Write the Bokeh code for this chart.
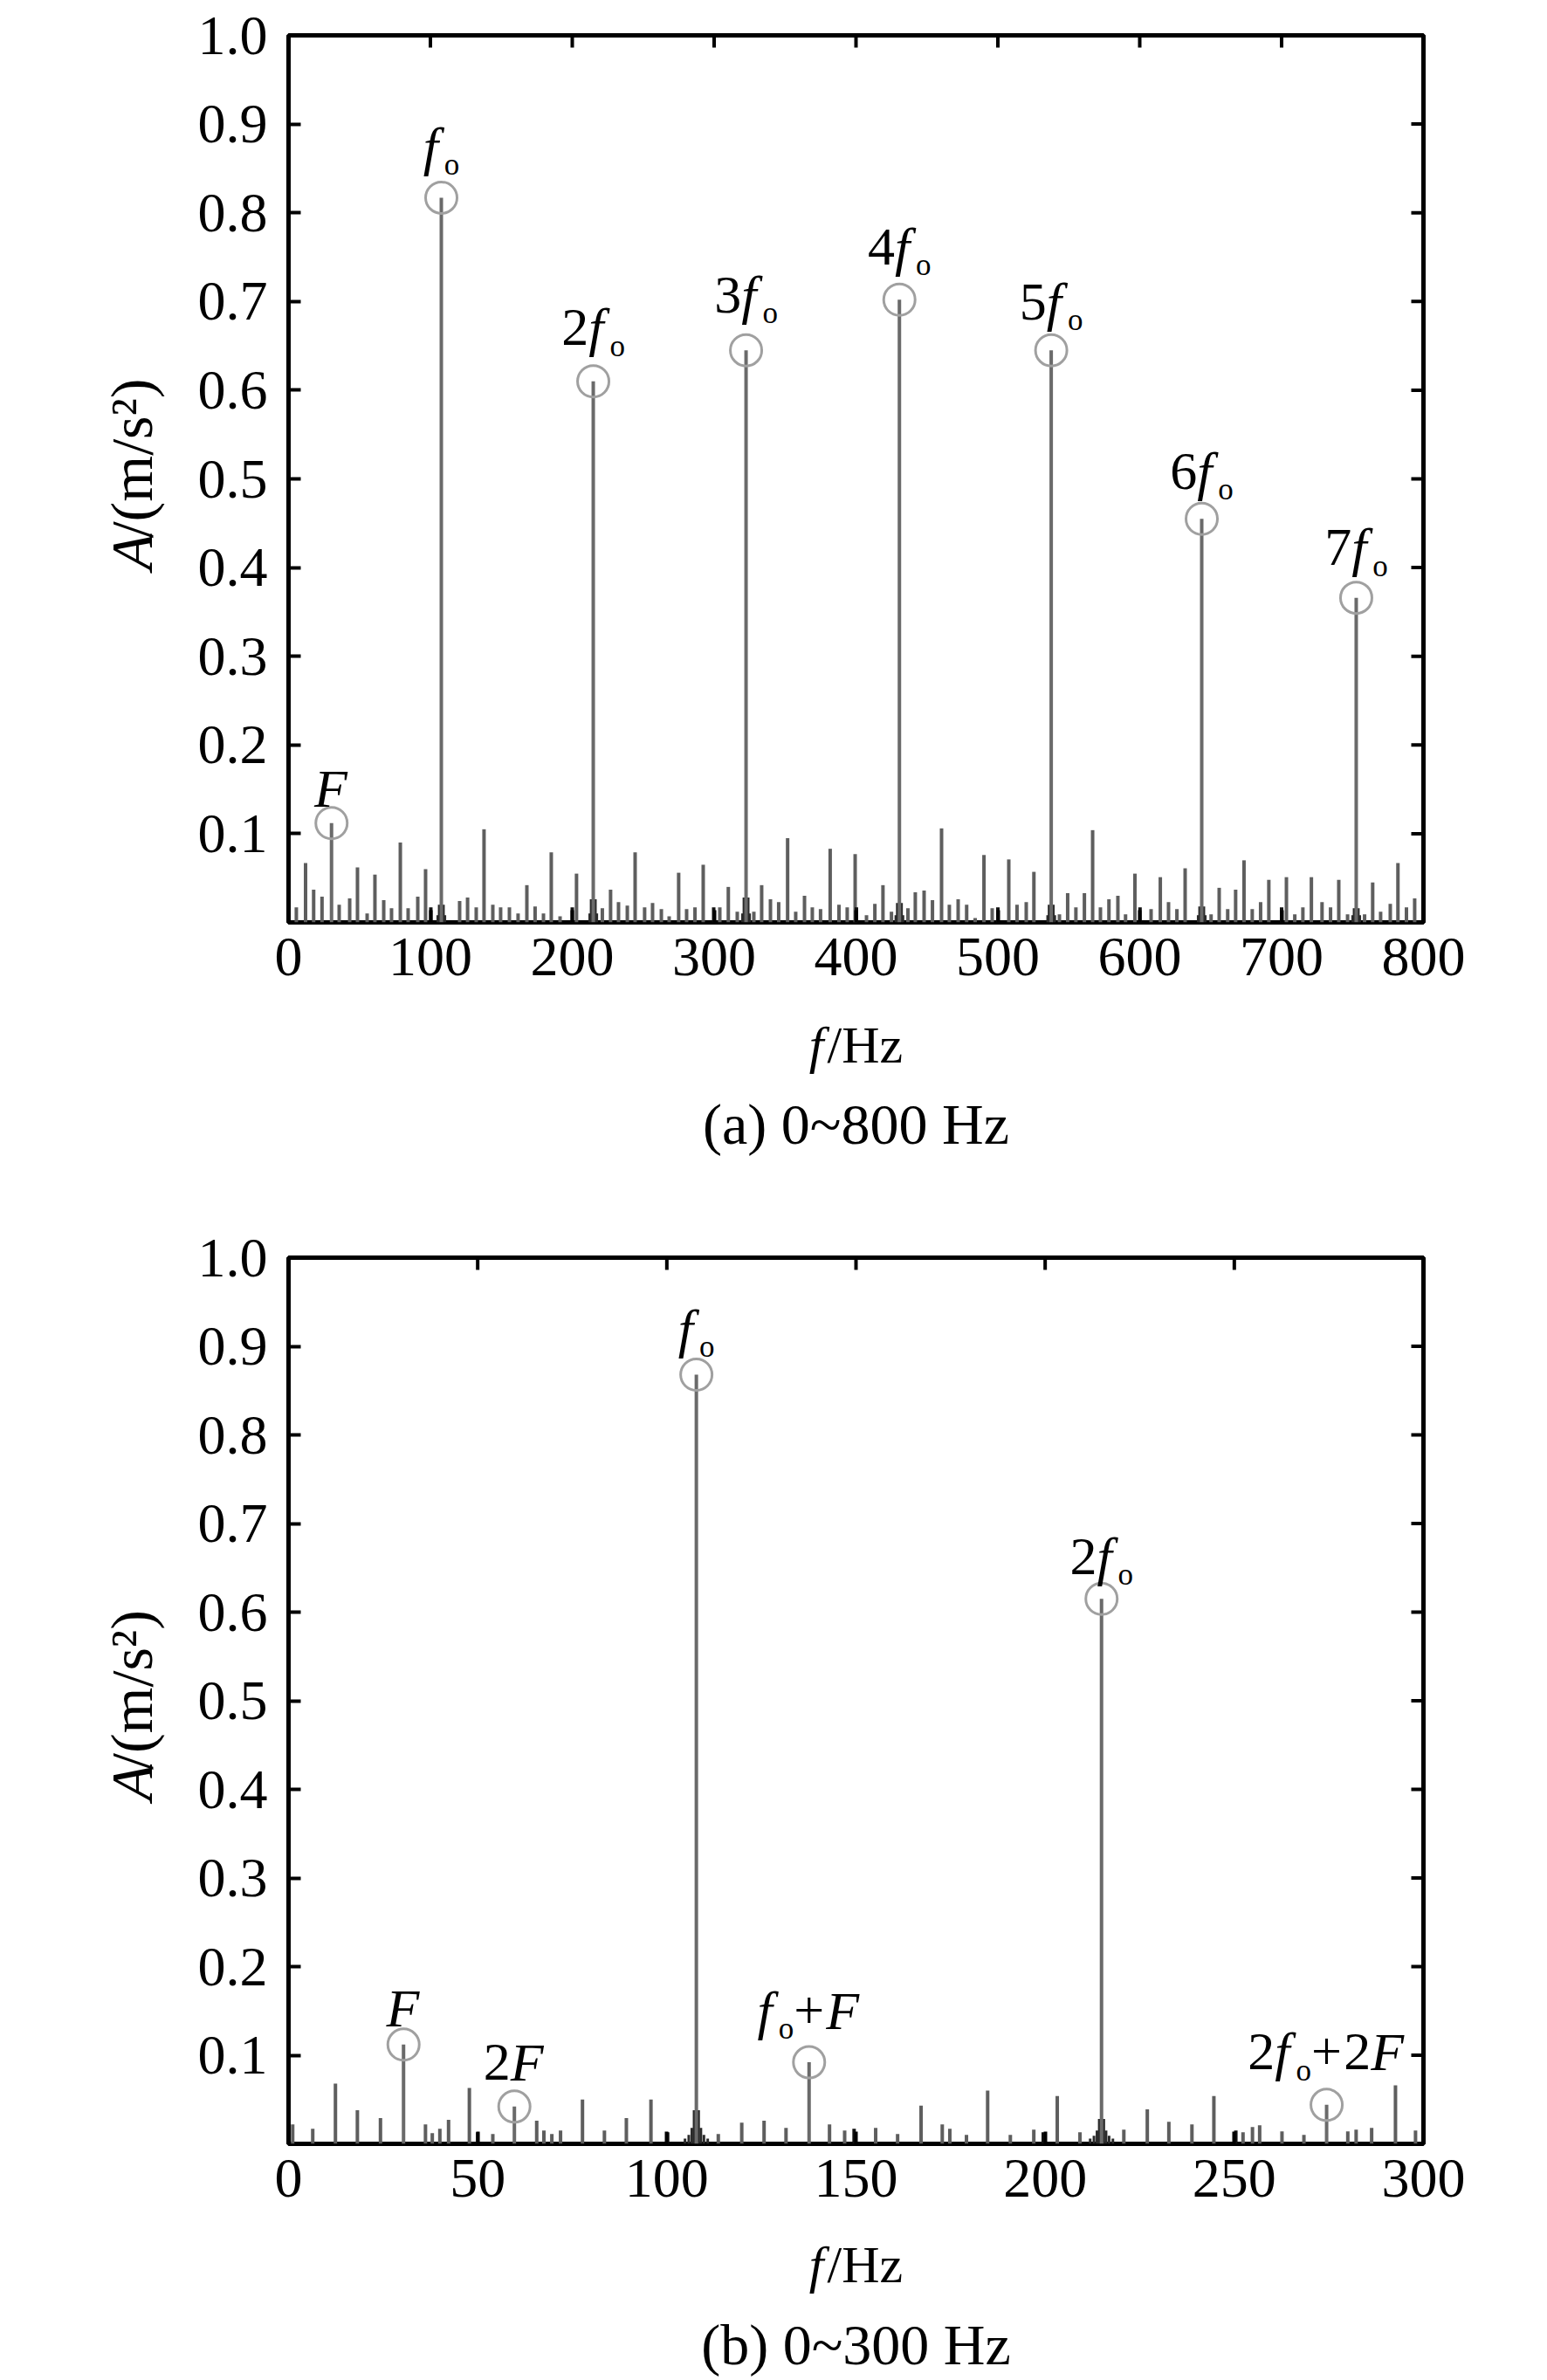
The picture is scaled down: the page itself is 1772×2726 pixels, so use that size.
import math
from bokeh.plotting import figure
from bokeh.models import Range1d, FixedTicker, Label, NumeralTickFormatter
from bokeh.layouts import column, row
from bokeh.embed import file_html
from bokeh.resources import INLINE

# ---------------- data: panel (a) 0~800 Hz ----------------
A_XTICKS = [0, 100, 200, 300, 400, 500, 600, 700, 800]
A_PEAK_F = [30.3, 107.7, 214.8, 322.5, 430.6, 537.6, 643.7, 752.6]
A_PEAK_A = [0.112, 0.817, 0.610, 0.645, 0.702, 0.645, 0.455, 0.366]
A_PEAK_LABELS = [
    [("F", "i")],
    [("f", "i"), ("o", "s")],
    [("2", "n"), ("f", "i"), ("o", "s")],
    [("3", "n"), ("f", "i"), ("o", "s")],
    [("4", "n"), ("f", "i"), ("o", "s")],
    [("5", "n"), ("f", "i"), ("o", "s")],
    [("6", "n"), ("f", "i"), ("o", "s")],
    [("7", "n"), ("f", "i"), ("o", "s")],
]
A_NOISE_F = [5.5, 12.0, 17.7, 23.6, 35.7, 43.1, 48.6, 55.4, 60.9, 67.1,
             72.6, 78.8, 84.3, 91.1, 96.6, 120.6, 126.2, 132.3, 137.8,
             144.0, 149.5, 155.7, 161.8, 168.0, 173.8, 179.7, 185.2, 191.4,
             203.0, 221.2, 227.0, 232.6, 238.8, 244.3, 251.0, 256.6, 262.8, 268.3,
             275.0, 280.6, 286.5, 292.3, 304.0, 310.0, 316.3, 328.0, 333.5,
             339.7, 345.5, 351.8, 357.5, 363.7, 369.2, 375.0, 381.8, 388.0, 393.8,
             399.4, 407.4, 413.3, 419.0, 425.0, 436.6, 441.8, 448.0, 453.9, 460.3,
             465.8, 472.0, 478.0, 484.0, 490.2, 496.0, 507.7, 513.5, 520.0,
             525.4, 543.4, 549.2, 555.0, 561.0, 566.8, 572.3, 578.3, 584.6, 590.0,
             596.6, 608.0, 614.5, 620.3, 626.2, 632.0, 650.3, 656.0, 662.0,
             667.6, 673.5, 679.3, 685.2, 691.0, 703.4, 709.3, 715.0, 721.0,
             728.5, 734.5, 740.3, 746.5, 758.5, 764.2, 769.8, 776.6, 782.0, 788.0,
             793.8]
A_NOISE_A = [0.017, 0.067, 0.037, 0.029, 0.020, 0.027, 0.062, 0.010, 0.054, 0.025,
             0.016, 0.090, 0.016, 0.029, 0.060, 0.024, 0.028, 0.017, 0.105,
             0.020, 0.017, 0.017, 0.010, 0.042, 0.018, 0.010, 0.079, 0.007,
             0.055, 0.016, 0.037, 0.023, 0.019, 0.079, 0.017, 0.022, 0.015, 0.007,
             0.056, 0.015, 0.017, 0.065, 0.017, 0.040, 0.012, 0.012, 0.042,
             0.026, 0.023, 0.095, 0.012, 0.030, 0.017, 0.015, 0.083, 0.020, 0.017,
             0.077, 0.008, 0.021, 0.042, 0.012, 0.016, 0.034, 0.036, 0.025, 0.106,
             0.020, 0.026, 0.020, 0.005, 0.076, 0.016, 0.071, 0.020, 0.023,
             0.057, 0.009, 0.033, 0.017, 0.033, 0.104, 0.017, 0.026, 0.030, 0.009,
             0.055, 0.015, 0.051, 0.023, 0.015, 0.061, 0.009, 0.039, 0.015,
             0.037, 0.070, 0.015, 0.023, 0.048, 0.051, 0.009, 0.017, 0.051,
             0.023, 0.017, 0.048, 0.009, 0.009, 0.045, 0.012, 0.021, 0.067, 0.017,
             0.027]
A_DARK_F = [100.3, 200.0, 299.7, 400.3, 500.0, 600.2, 700.0]
A_DARK_A = [0.017, 0.017, 0.017, 0.017, 0.017, 0.017, 0.017]
A_SKIRT_F = [105.2, 106.2, 109.2, 110.2, 212.3, 213.3, 216.3, 217.3,
             320.0, 321.0, 324.0, 325.0, 428.1, 429.1, 432.1, 433.1,
             535.1, 536.1, 539.1, 540.1, 641.2, 642.2, 645.2, 646.2,
             750.1, 751.1, 754.1, 755.1]
A_SKIRT_A = [0.008, 0.020, 0.020, 0.008, 0.010, 0.026, 0.026, 0.010,
             0.010, 0.028, 0.028, 0.010, 0.008, 0.022, 0.022, 0.008,
             0.008, 0.020, 0.020, 0.008, 0.008, 0.018, 0.018, 0.008,
             0.008, 0.016, 0.016, 0.008]

# ---------------- data: panel (b) 0~300 Hz ----------------
B_XTICKS = [0, 50, 100, 150, 200, 250, 300]
B_PEAK_F = [30.4, 59.7, 107.8, 137.6, 214.9, 274.4]
B_PEAK_A = [0.112, 0.042, 0.868, 0.092, 0.615, 0.044]
B_PEAK_LABELS = [
    [("F", "i")],
    [("2", "n"), ("F", "i")],
    [("f", "i"), ("o", "s")],
    [("f", "i"), ("o", "s"), ("+", "n"), ("F", "i")],
    [("2", "n"), ("f", "i"), ("o", "s")],
    [("2", "n"), ("f", "i"), ("o", "s"), ("+", "n"), ("2", "n"), ("F", "i")],
]
B_NOISE_F = [1.1, 6.4, 12.4, 18.2, 24.3, 36.2, 38.0, 40.0, 42.3, 47.8,
             54.0, 65.6, 67.5, 69.6, 71.9, 77.7, 83.5, 89.3, 95.8,
             113.6, 119.8, 125.7, 131.5, 143.0, 147.0, 155.2, 161.0, 167.2,
             172.8, 174.8, 179.2, 184.8, 190.8, 197.0, 203.2, 209.2, 220.8,
             227.0, 232.7, 238.8, 244.6, 252.3, 254.8, 256.7, 262.6, 268.4,
             280.0, 282.2, 286.3, 292.6, 297.9]
B_NOISE_A = [0.022, 0.017, 0.068, 0.038, 0.029, 0.022, 0.012, 0.017, 0.027, 0.063,
             0.011, 0.026, 0.015, 0.011, 0.015, 0.050, 0.015, 0.029, 0.050,
             0.011, 0.024, 0.026, 0.018, 0.022, 0.015, 0.018, 0.011, 0.043,
             0.022, 0.017, 0.010, 0.060, 0.010, 0.016, 0.054, 0.013, 0.016,
             0.039, 0.025, 0.022, 0.054, 0.013, 0.019, 0.021, 0.014, 0.010,
             0.014, 0.016, 0.018, 0.066, 0.015]
B_DARK_F = [50.0, 100.2, 149.5, 199.5, 250.4]
B_DARK_A = [0.013, 0.013, 0.017, 0.013, 0.015]
B_SKIRT_F = [104.8, 105.8, 106.6, 107.2, 108.4, 109.0, 109.8, 110.8,
             211.9, 212.9, 213.7, 214.3, 215.5, 216.1, 216.9, 217.9]
B_SKIRT_A = [0.006, 0.010, 0.018, 0.038, 0.038, 0.018, 0.010, 0.006,
             0.006, 0.009, 0.015, 0.028, 0.028, 0.015, 0.009, 0.006]

Y_TICKS = [0.1, 0.2, 0.3, 0.4, 0.5, 0.6, 0.7, 0.8, 0.9, 1.0]
CAPTIONS = ["(a) 0~800 Hz", "(b) 0~300 Hz"]

# label gaps (px between peak top and label baseline)
A_GAPS = [21, 40, 43, 45, 42, 37, 36, 39]
B_GAPS = [23, 32, 34, 41, 30, 42]

# ---------------- styling / layout ----------------
FONT = "Liberation Serif"
TICK_SIZE = 64
LBL = 62
SUB = 35
SUB_DY = -13
FRAME_W = 1300
YFIG_W = 208          # strip holding the rotated y label
MAIN_LEFT = 122       # left border of the plot figure (frame starts at 330)
MAIN_RIGHT = 142
TICK_LEN = 14
BOTTOM_BORDER = 98
BASE_FIX = 0.30       # em: lift so that the glyph baseline sits where intended
ROT_FIX = 0.52        # em: along-text correction for the rotated label


def piece_width(t, k):
    if k == "s":
        return 0.5 * SUB
    if k == "i":
        return {"f": 0.39, "F": 0.64}[t] * LBL
    return {"+": 0.60}.get(t, 0.5) * LBL


def add_peak_label(p, fx, fy, pieces, gap):
    widths = [piece_width(t, k) for t, k in pieces]
    x = -sum(widths) / 2.0
    for (t, k), w in zip(pieces, widths):
        size = SUB if k == "s" else LBL
        p.add_layout(Label(
            x=fx, y=fy, x_offset=x,
            y_offset=gap + (SUB_DY if k == "s" else 0) + BASE_FIX * size,
            text=t, text_font=FONT,
            text_font_style="italic" if k == "i" else "normal",
            text_font_size=f"{size}px",
            text_color="black", text_align="left", text_baseline="alphabetic"))
        x += w


def text_label(p, x, y, text, size, style="normal", align="left", angle=0.0):
    if angle:
        x -= BASE_FIX * size
        y -= ROT_FIX * size
    else:
        y += BASE_FIX * size
    p.add_layout(Label(x=x, y=y, text=text, text_font=FONT, text_font_style=style,
                       text_font_size=f"{size}px", text_color="black",
                       text_align=align, text_baseline="alphabetic", angle=angle))


def blank_fig(w, h):
    f = figure(width=w, height=h, x_range=Range1d(0, w), y_range=Range1d(0, h),
               x_axis_location=None, y_axis_location=None,
               output_backend="svg", toolbar_location=None, min_border=0,
               outline_line_color=None, background_fill_color="white",
               border_fill_color="white")
    f.grid.visible = False
    return f


def make_panel(xmax, xticks, frame_h, top,
               noise_f, noise_a, dark_f, dark_a, skirt_f, skirt_a,
               peak_f, peak_a, labels, gaps):
    p = figure(frame_width=FRAME_W, frame_height=frame_h,
               x_range=Range1d(0, xmax), y_range=Range1d(0, 1.0),
               output_backend="svg", toolbar_location=None,
               min_border_left=MAIN_LEFT, min_border_right=MAIN_RIGHT,
               min_border_top=top, min_border_bottom=BOTTOM_BORDER,
               background_fill_color="white", border_fill_color="white")
    p.grid.visible = False
    p.outline_line_color = "black"
    p.outline_line_width = 5

    xa = p.xaxis[0]
    ya = p.yaxis[0]
    xa.ticker = FixedTicker(ticks=xticks)
    ya.ticker = FixedTicker(ticks=Y_TICKS)
    ya.formatter = NumeralTickFormatter(format="0.0")
    xa.major_label_standoff = 18
    ya.major_label_standoff = 24
    for ax in (xa, ya):
        ax.axis_line_color = None
        ax.major_tick_in = TICK_LEN
        ax.major_tick_out = 0
        ax.major_tick_line_width = 4
        ax.major_tick_line_color = "black"
        ax.minor_tick_line_color = None
        ax.major_label_text_font = FONT
        ax.major_label_text_font_size = f"{TICK_SIZE}px"
        ax.major_label_text_color = "black"

    # inward ticks on the top and right edges of the box
    dy = TICK_LEN / frame_h
    dx = TICK_LEN * xmax / FRAME_W
    p.segment(x0=xticks, y0=[1.0] * len(xticks), x1=xticks, y1=[1.0 - dy] * len(xticks),
              line_color="black", line_width=4)
    p.segment(x0=[xmax] * len(Y_TICKS), y0=Y_TICKS, x1=[xmax - dx] * len(Y_TICKS), y1=Y_TICKS,
              line_color="black", line_width=4)

    # spectrum lines
    p.segment(x0=noise_f, y0=[0] * len(noise_f), x1=noise_f, y1=noise_a,
              line_color="#5e5e5e", line_width=4)
    p.segment(x0=dark_f, y0=[0] * len(dark_f), x1=dark_f, y1=dark_a,
              line_color="#111111", line_width=4)
    p.segment(x0=skirt_f, y0=[0] * len(skirt_f), x1=skirt_f, y1=skirt_a,
              line_color="#2a2a2a", line_width=3)
    p.segment(x0=peak_f, y0=[0] * len(peak_f), x1=peak_f, y1=peak_a,
              line_color="#6a6a6a", line_width=4)
    p.scatter(x=peak_f, y=peak_a, marker="circle", size=36, fill_color=None,
              line_color="#a0a0a0", line_width=3)

    for fx, fy, pieces, gap in zip(peak_f, peak_a, labels, gaps):
        add_peak_label(p, fx, fy, pieces, gap)
    return p


def y_label_fig(height, frame_mid_from_bottom):
    f = blank_fig(YFIG_W, height)
    ysz = 68
    parts = [("A", "italic", 0.611 * ysz),
             ("/(m/s\u00b2)", "normal", (0.278 + 0.333 + 0.778 + 0.278 + 0.389 + 0.30 + 0.333) * ysz)]
    total = sum(w for _, _, w in parts)
    yy = frame_mid_from_bottom - total / 2.0
    for t, st, w in parts:
        text_label(f, 171, yy, t, ysz, style=st, angle=math.pi / 2)
        yy += w
    return f


def x_label_fig(height, xlab_from_top, cap_from_top, caption):
    w = YFIG_W + MAIN_LEFT + FRAME_W + MAIN_RIGHT
    f = blank_fig(w, height)
    cx = YFIG_W + MAIN_LEFT + FRAME_W / 2.0
    xsz = 60
    fw = 0.278 * xsz + 4
    rest = (0.278 + 0.722 + 0.444) * xsz
    x0 = cx - (fw + rest) / 2.0
    text_label(f, x0, height - xlab_from_top, "f", xsz, style="italic")
    text_label(f, x0 + fw, height - xlab_from_top, "/Hz", xsz)
    text_label(f, cx, height - cap_from_top, caption, 66, align="center")
    return f


# panel (a): frame 40..1056, plot row 0..1154, caption strip 1154..1370
A_TOP, A_FH = 40, 1016
pa = make_panel(800, A_XTICKS, A_FH, A_TOP,
                A_NOISE_F, A_NOISE_A, A_DARK_F, A_DARK_A, A_SKIRT_F, A_SKIRT_A,
                A_PEAK_F, A_PEAK_A, A_PEAK_LABELS, A_GAPS)
HA = A_TOP + A_FH + BOTTOM_BORDER
ya_fig = y_label_fig(HA, BOTTOM_BORDER + A_FH / 2.0)
xa_fig = x_label_fig(216, 60, 153, CAPTIONS[0])

# panel (b): frame 1440..2455, plot row 1370..2553, caption strip 2553..2724
B_TOP, B_FH = 70, 1015
pb = make_panel(300, B_XTICKS, B_FH, B_TOP,
                B_NOISE_F, B_NOISE_A, B_DARK_F, B_DARK_A, B_SKIRT_F, B_SKIRT_A,
                B_PEAK_F, B_PEAK_A, B_PEAK_LABELS, B_GAPS)
HB = B_TOP + B_FH + BOTTOM_BORDER
yb_fig = y_label_fig(HB, BOTTOM_BORDER + B_FH / 2.0)
xb_fig = x_label_fig(171, 58, 152, CAPTIONS[1])

layout = column(row(ya_fig, pa, spacing=0), xa_fig,
                row(yb_fig, pb, spacing=0), xb_fig, spacing=0)
open("out.html", "w").write(file_html(layout, INLINE))
